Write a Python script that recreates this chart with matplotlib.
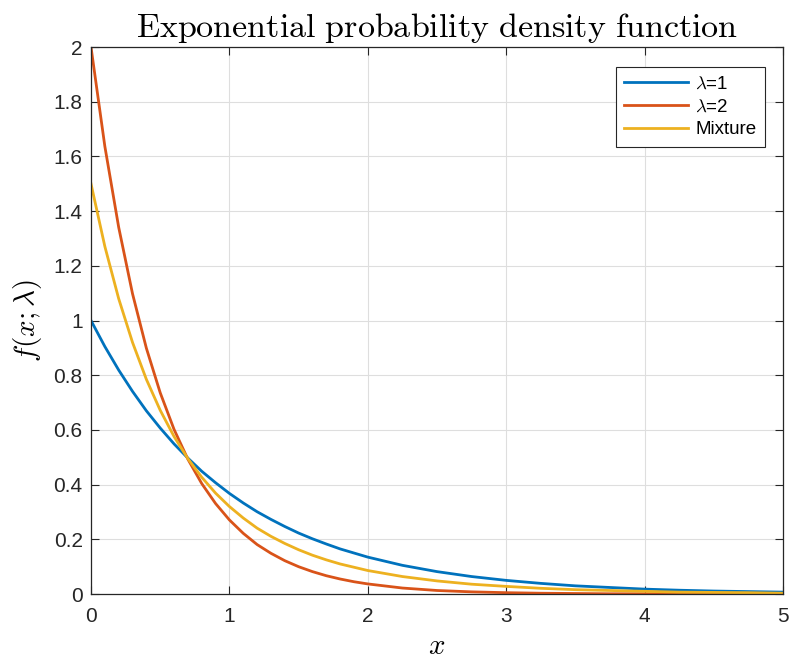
import matplotlib.pyplot as plt

x = [0.0, 0.1, 0.2, 0.3, 0.4, 0.5, 0.6, 0.7, 0.8, 0.9, 1.0,
     1.1, 1.2, 1.3, 1.4, 1.5, 1.6, 1.7, 1.8, 1.9, 2.0,
     2.25, 2.5, 2.75, 3.0, 3.25, 3.5, 3.75, 4.0, 4.25, 4.5, 4.75, 5.0]

lam1 = [1.000, 0.905, 0.819, 0.741, 0.670, 0.607, 0.549, 0.497, 0.449, 0.407, 0.368,
        0.333, 0.301, 0.273, 0.247, 0.223, 0.202, 0.183, 0.165, 0.150, 0.135,
        0.105, 0.082, 0.064, 0.050, 0.039, 0.030, 0.024, 0.018, 0.014, 0.011, 0.009, 0.007]

lam2 = [2.000, 1.637, 1.341, 1.098, 0.899, 0.736, 0.602, 0.493, 0.404, 0.331, 0.271,
        0.222, 0.181, 0.149, 0.122, 0.100, 0.082, 0.067, 0.055, 0.045, 0.037,
        0.022, 0.013, 0.008, 0.005, 0.003, 0.002, 0.001, 0.001, 0.000, 0.000, 0.000, 0.000]

mixture = [1.500, 1.271, 1.080, 0.920, 0.785, 0.672, 0.576, 0.495, 0.427, 0.369, 0.320,
           0.278, 0.241, 0.211, 0.185, 0.162, 0.142, 0.125, 0.110, 0.098, 0.086,
           0.064, 0.048, 0.036, 0.028, 0.021, 0.016, 0.013, 0.010, 0.007, 0.006, 0.005, 0.003]

labels = ['$\\lambda$=1', '$\\lambda$=2', 'Mixture']
colors = ['#0072BD', '#D95319', '#EDB120']

plt.rcParams['font.family'] = ['Liberation Sans', 'DejaVu Sans']
plt.rcParams['mathtext.fontset'] = 'cm'

fig = plt.figure(figsize=(7.9, 6.63), dpi=100)
ax = fig.add_axes([0.1152, 0.104, 0.876, 0.825])

for y, lab, c in zip([lam1, lam2, mixture], labels, colors):
    ax.plot(x, y, color=c, linewidth=2.0, label=lab)

ax.set_xlim(0, 5)
ax.set_ylim(0, 2)
ax.set_xticks([0, 1, 2, 3, 4, 5])
ax.set_yticks([0, 0.2, 0.4, 0.6, 0.8, 1, 1.2, 1.4, 1.6, 1.8, 2])
ax.set_yticklabels(['0', '0.2', '0.4', '0.6', '0.8', '1', '1.2', '1.4', '1.6', '1.8', '2'])
ax.grid(True, color='#dedede', linewidth=0.8)
ax.set_axisbelow(True)
ax.tick_params(direction='in', top=True, right=True, length=6, width=0.8,
               colors='#262626', labelsize=15)
ax.tick_params(axis='x', pad=9)
ax.tick_params(axis='y', pad=6)
for s in ax.spines.values():
    s.set_color('#262626')
    s.set_linewidth(0.9)

ax.set_title('$\\mathrm{Exponential\\ probability\\ density\\ function}$', fontsize=24.5, pad=7)
ax.set_xlabel('$x$', fontsize=21, labelpad=5)
ax.set_ylabel('$f(x;\\lambda)$', fontsize=21, labelpad=7)

leg = ax.legend(loc='upper right', bbox_to_anchor=(0.974, 0.963), fontsize=13.5,
                handlelength=3.4, fancybox=False, framealpha=1, edgecolor='#262626',
                borderpad=0.45, labelspacing=0.3, handletextpad=0.4, borderaxespad=0)
leg.get_frame().set_linewidth(0.8)

fig.savefig('out.png', dpi=100)
